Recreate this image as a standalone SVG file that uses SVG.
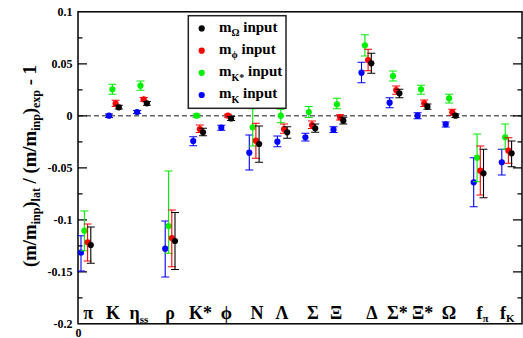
<svg xmlns="http://www.w3.org/2000/svg" width="523" height="338" viewBox="0 0 523 338">
<style>
text{font-family:"Liberation Serif","Times New Roman",serif;font-weight:bold;fill:#000}
.tl{font-size:12px;text-anchor:end}
.cat{font-size:18px}
.cm{text-anchor:middle}
.eb{fill:none;stroke-width:1.1}
.sb{stroke:#0000ff}.sg{stroke:#00ee00}.sr{stroke:#ff0000}.sk{stroke:#000}
.fb{fill:#0000ff}.fg{fill:#00ee00}.fr{fill:#ff0000}.fk{fill:#000}
.ax{fill:none;stroke:#000;stroke-width:1.5}
.tk{fill:none;stroke:#000;stroke-width:1.2}
</style>
<rect width="523" height="338" fill="#fff"/>
<g id="zero-line"><path d="M78,115.8H522" stroke="#666" stroke-width="1.5" stroke-dasharray="5,3" fill="none"/></g>
<g id="axes">
<rect class="ax" x="78" y="11.8" width="444" height="312"/>
<path class="tk" d="M78,63.8h9M78,115.8h9M78,167.8h9M78,219.8h9M78,271.8h9M78,37.8h4.5M78,89.8h4.5M78,141.8h4.5M78,193.8h4.5M78,245.8h4.5M78,297.8h4.5M522,63.8h-9M522,115.8h-9M522,167.8h-9M522,219.8h-9M522,271.8h-9M522,37.8h-4.5M522,89.8h-4.5M522,141.8h-4.5M522,193.8h-4.5M522,245.8h-4.5M522,297.8h-4.5"/>
<text class="tl" x="72.5" y="16">0.1</text>
<text class="tl" x="72.5" y="68">0.05</text>
<text class="tl" x="72.5" y="120">0</text>
<text class="tl" x="72.5" y="172">-0.05</text>
<text class="tl" x="72.5" y="224">-0.1</text>
<text class="tl" x="72.5" y="276">-0.15</text>
<text class="tl" x="72.5" y="328">-0.2</text>
<text x="78.5" y="336.5" font-size="12" text-anchor="middle">0</text>
<text transform="translate(35.5,166) rotate(-90)" x="-101" y="0" font-size="18" textLength="202" lengthAdjust="spacingAndGlyphs">(m/m<tspan font-size="11.5" dy="4.5">inp</tspan><tspan dy="-4.5">)</tspan><tspan font-size="11.5" dy="4.5">lat</tspan><tspan dy="-4.5"> / (m/m</tspan><tspan font-size="11.5" dy="4.5">inp</tspan><tspan dy="-4.5">)</tspan><tspan font-size="11.5" dy="4.5">exp</tspan><tspan dy="-4.5"> - 1</tspan></text>
</g>
<g id="category-labels" class="cat">
<text class="cm" x="88.3" y="318.5">π</text>
<text class="cm" x="113" y="318.5">K</text>
<text x="129.5" y="318.5">η<tspan font-size="11" dy="4.5">ss</tspan></text>
<text class="cm" x="170" y="318.5">ρ</text>
<text x="189" y="318.5">K*</text>
<text class="cm" x="226.3" y="318.5">ϕ</text>
<text class="cm" x="257" y="318.5">N</text>
<text class="cm" x="282" y="318.5">Λ</text>
<text class="cm" x="313" y="318.5">Σ</text>
<text class="cm" x="336" y="318.5">Ξ</text>
<text class="cm" x="372" y="318.5">Δ</text>
<text x="387" y="318.5">Σ*</text>
<text x="412" y="318.5">Ξ*</text>
<text class="cm" x="449" y="318.5">Ω</text>
<text x="476.5" y="318.5">f<tspan font-size="11" dy="3.5">π</tspan></text>
<text x="500" y="318.5">f<tspan font-size="11" dy="3.5">K</tspan></text>
</g>
<g id="series-blue">
<path class="eb sb" d="M81,235.7V271M77,235.7h8M77,271h8M109,114V117.5M105,114h8M105,117.5h8M137.1,110.5V113.5M133.1,110.5h8M133.1,113.5h8M165.2,221V277M161.2,221h8M161.2,277h8M193.2,136.7V145.7M189.2,136.7h8M189.2,145.7h8M221.3,125.2V130.2M217.3,125.2h8M217.3,130.2h8M249.3,135V170M245.3,135h8M245.3,170h8M277.4,136V146.7M273.4,136h8M273.4,146.7h8M305.4,133.3V141M301.4,133.3h8M301.4,141h8M333.5,126.7V132.5M329.5,126.7h8M329.5,132.5h8M361.5,62.3V82.7M357.5,62.3h8M357.5,82.7h8M389.6,97.7V107.7M385.6,97.7h8M385.6,107.7h8M417.6,112.7V118.7M413.6,112.7h8M413.6,118.7h8M445.7,122V127M441.7,122h8M441.7,127h8M473.7,157.7V206.7M469.7,157.7h8M469.7,206.7h8M501.8,149.3V175M497.8,149.3h8M497.8,175h8"/>
<g class="fb">
<circle cx="81" cy="252.7" r="3.1"/><circle cx="109" cy="115.7" r="3.1"/><circle cx="137.1" cy="112" r="3.1"/><circle cx="165.2" cy="248.7" r="3.1"/><circle cx="193.2" cy="141" r="3.1"/><circle cx="221.3" cy="127.7" r="3.1"/><circle cx="249.3" cy="152.7" r="3.1"/><circle cx="277.4" cy="141.7" r="3.1"/><circle cx="305.4" cy="137.3" r="3.1"/><circle cx="333.5" cy="129.7" r="3.1"/><circle cx="361.5" cy="72.7" r="3.1"/><circle cx="389.6" cy="102.7" r="3.1"/><circle cx="417.6" cy="115.7" r="3.1"/><circle cx="445.7" cy="124.3" r="3.1"/><circle cx="473.7" cy="182.3" r="3.1"/><circle cx="501.8" cy="162.3" r="3.1"/>
</g>
</g>
<g id="series-green">
<path class="eb sg" d="M84.4,211V250.7M80.4,211h8M80.4,250.7h8M112.4,84.3V94.3M108.4,84.3h8M108.4,94.3h8M140.5,81V90.3M136.5,81h8M136.5,90.3h8M168.6,171V253.3M164.6,171h8M164.6,253.3h8M196.6,114V117.5M192.6,114h8M192.6,117.5h8M252.7,108.6V146M248.7,108.6h8M248.7,146h8M280.8,109.3V122.7M276.8,109.3h8M276.8,122.7h8M308.8,106.5V117.5M304.8,106.5h8M304.8,117.5h8M336.9,98.3V108.8M332.9,98.3h8M332.9,108.8h8M364.9,34.7V56M360.9,34.7h8M360.9,56h8M393,71V81M389,71h8M389,81h8M421,85.3V94.3M417,85.3h8M417,94.3h8M449.1,94.3V103M445.1,94.3h8M445.1,103h8M477.1,134V181.7M473.1,134h8M473.1,181.7h8M505.2,124V149.3M501.2,124h8M501.2,149.3h8"/>
<g class="fg">
<circle cx="84.4" cy="230.7" r="3.1"/><circle cx="112.4" cy="89.3" r="3.1"/><circle cx="140.5" cy="85.7" r="3.1"/><circle cx="168.6" cy="226" r="3.1"/><circle cx="196.6" cy="115.7" r="3.1"/><circle cx="252.7" cy="127.3" r="3.1"/><circle cx="280.8" cy="115.7" r="3.1"/><circle cx="308.8" cy="112" r="3.1"/><circle cx="336.9" cy="104.3" r="3.1"/><circle cx="364.9" cy="45.3" r="3.1"/><circle cx="393" cy="76" r="3.1"/><circle cx="421" cy="89.3" r="3.1"/><circle cx="449.1" cy="98.3" r="3.1"/><circle cx="477.1" cy="157.7" r="3.1"/><circle cx="505.2" cy="137.3" r="3.1"/>
</g>
</g>
<g id="series-red">
<path class="eb sr" d="M87.6,224V261M83.6,224h8M83.6,261h8M115.6,100.3V106.5M111.6,100.3h8M111.6,106.5h8M143.7,97.5V101.2M139.7,97.5h8M139.7,101.2h8M171.8,210V266.7M167.8,210h8M167.8,266.7h8M199.8,125V132.5M195.8,125h8M195.8,132.5h8M227.9,114.2V117.2M223.9,114.2h8M223.9,117.2h8M255.9,123.3V158.3M251.9,123.3h8M251.9,158.3h8M284,124V133.3M280,124h8M280,133.3h8M312,121V128.5M308,121h8M308,128.5h8M340.1,114.8V120M336.1,114.8h8M336.1,120h8M368.1,49.3V70.7M364.1,49.3h8M364.1,70.7h8M396.2,86V94.3M392.2,86h8M392.2,94.3h8M424.2,100V106.5M420.2,100h8M420.2,106.5h8M452.3,109.3V115.3M448.3,109.3h8M448.3,115.3h8M480.3,146V195M476.3,146h8M476.3,195h8M508.4,137.7V163.3M504.4,137.7h8M504.4,163.3h8"/>
<g class="fr">
<circle cx="87.6" cy="242.3" r="3.1"/><circle cx="115.6" cy="103.7" r="3.1"/><circle cx="143.7" cy="99.3" r="3.1"/><circle cx="171.8" cy="238" r="3.1"/><circle cx="199.8" cy="129" r="3.1"/><circle cx="227.9" cy="115.7" r="3.1"/><circle cx="255.9" cy="140.7" r="3.1"/><circle cx="284" cy="129" r="3.1"/><circle cx="312" cy="125" r="3.1"/><circle cx="340.1" cy="117.3" r="3.1"/><circle cx="368.1" cy="60" r="3.1"/><circle cx="396.2" cy="90" r="3.1"/><circle cx="424.2" cy="103.3" r="3.1"/><circle cx="452.3" cy="112.3" r="3.1"/><circle cx="480.3" cy="170.7" r="3.1"/><circle cx="508.4" cy="150.7" r="3.1"/>
</g>
</g>
<g id="series-black">
<path class="eb sk" d="M90.8,227V263.3M86.8,227h8M86.8,263.3h8M118.8,105.3V109M114.8,105.3h8M114.8,109h8M146.9,101.5V105.3M142.9,101.5h8M142.9,105.3h8M175,212.5V269.5M171,212.5h8M171,269.5h8M203,128.3V135.7M199,128.3h8M199,135.7h8M231.1,116.5V120.5M227.1,116.5h8M227.1,120.5h8M259.1,126V162.3M255.1,126h8M255.1,162.3h8M287.2,126.7V138.3M283.2,126.7h8M283.2,138.3h8M315.2,124V132.3M311.2,124h8M311.2,132.3h8M343.3,117.3V124M339.3,117.3h8M339.3,124h8M371.3,53.3V73.3M367.3,53.3h8M367.3,73.3h8M399.4,89.3V97.7M395.4,89.3h8M395.4,97.7h8M427.4,104V109.3M423.4,104h8M423.4,109.3h8M455.5,114V117.5M451.5,114h8M451.5,117.5h8M483.5,149.3V197.7M479.5,149.3h8M479.5,197.7h8M511.6,141V166.7M507.6,141h8M507.6,166.7h8"/>
<g class="fk">
<circle cx="90.8" cy="245" r="3.1"/><circle cx="118.8" cy="107.3" r="3.1"/><circle cx="146.9" cy="103.3" r="3.1"/><circle cx="175" cy="241" r="3.1"/><circle cx="203" cy="132.3" r="3.1"/><circle cx="231.1" cy="118.5" r="3.1"/><circle cx="259.1" cy="144" r="3.1"/><circle cx="287.2" cy="132.3" r="3.1"/><circle cx="315.2" cy="128.3" r="3.1"/><circle cx="343.3" cy="120.7" r="3.1"/><circle cx="371.3" cy="63.3" r="3.1"/><circle cx="399.4" cy="93.3" r="3.1"/><circle cx="427.4" cy="106.7" r="3.1"/><circle cx="455.5" cy="115.7" r="3.1"/><circle cx="483.5" cy="173.3" r="3.1"/><circle cx="511.6" cy="153.3" r="3.1"/>
</g>
</g>
<g id="legend">
<rect x="188.3" y="15.7" width="97.7" height="92.6" fill="#fff" stroke="#222" stroke-width="1.5"/>
<circle class="fk" cx="201.7" cy="28.4" r="3.1"/>
<circle class="fr" cx="201.7" cy="50.7" r="3.1"/>
<circle class="fg" cx="201.7" cy="72.8" r="3.1"/>
<circle class="fb" cx="201.7" cy="95" r="3.1"/>
<text x="219" y="31.7" font-size="15">m<tspan font-size="10" dy="4">Ω</tspan><tspan dy="-4"> input</tspan></text>
<text x="219" y="54" font-size="15">m<tspan font-size="10" dy="4">ϕ</tspan><tspan dy="-4"> input</tspan></text>
<text x="219" y="76" font-size="15">m<tspan font-size="10" dy="5">K*</tspan><tspan dy="-5"> input</tspan></text>
<text x="219" y="98.3" font-size="15">m<tspan font-size="10" dy="5">K</tspan><tspan dy="-5"> input</tspan></text>
</g>
</svg>
